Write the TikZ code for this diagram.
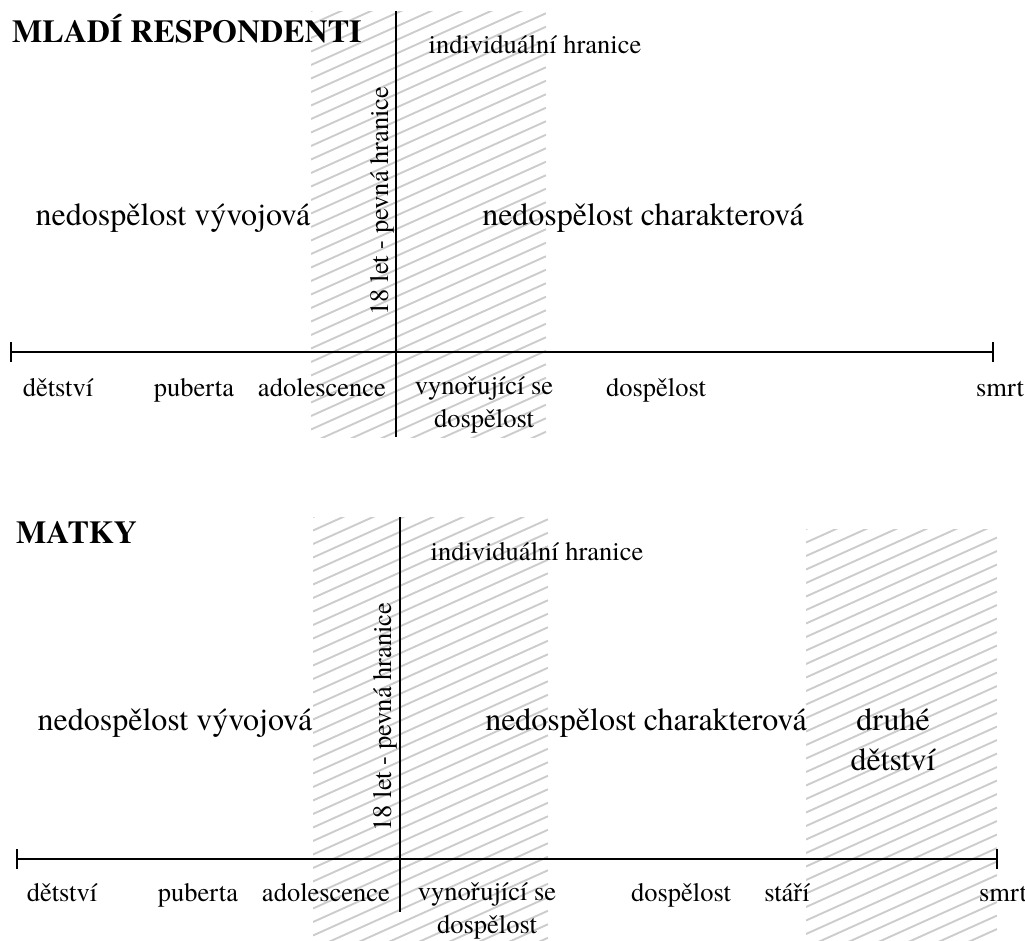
\documentclass[tikz,border=0pt]{standalone}
\usepackage{fontspec}
\setmainfont{texgyretermes}[Extension=.otf,UprightFont=*-regular,BoldFont=*-bold,ItalicFont=*-italic,BoldItalicFont=*-bolditalic]
\usetikzlibrary{calc}
\begin{document}
\begin{tikzpicture}[x=1pt,y=-1pt,
  axisline/.style={line width=1.8pt,black},
  hatchline/.style={line width=1.9pt,black!20},
  lbl/.style={font=\fontsize{26.5}{30}\selectfont,anchor=base,inner sep=0pt},
  big/.style={font=\fontsize{32}{36}\selectfont,anchor=base,inner sep=0pt},
  ttl/.style={font=\fontsize{32}{34}\selectfont\bfseries,anchor=base west,inner sep=0pt}]
\useasboundingbox (0,0) rectangle (1025,940);

% hatched band: \hatchband{x1}{y1}{x2}{y2}
\newcommand{\hatchband}[4]{%
  \begin{scope}
    \clip (#1,#2) rectangle (#3,#4);
    \pgfmathsetmacro{\hend}{#4+0.45*(#3-#1)+14}
    \pgfmathsetmacro{\hnext}{#2+13.5}
    \foreach \c in {#2,\hnext,...,\hend}
      \draw[hatchline] (#1,\c) -- (#3,{\c-0.45*(#3-#1)});
  \end{scope}}

% ---------- upper panel ----------
\hatchband{311}{11}{546}{437}
\node[ttl] (t1) at (12,42) {MLADÍ RESPONDENTI};
\coordinate (a1s) at (11,352);
\coordinate (a1e) at (993,352);
\coordinate (v1t) at (396,11);
\coordinate (v1b) at (396,437);
\draw[axisline] (a1s) -- (a1e);
\draw[axisline] ($(a1s)+(0,-10)$) -- ($(a1s)+(0,10)$);
\draw[axisline] ($(a1e)+(0,-10)$) -- ($(a1e)+(0,10)$);
\draw[axisline] (v1t) -- (v1b);
\node[lbl,rotate=90] (f1) at (388,201) {18 let - pevná hranice};
\node[lbl] (i1) at (535,53) {individuální hranice};
\node[big] (nv1) at (173,225) {nedospělost vývojová};
\node[big] (nc1) at (643,225) {nedospělost charakterová};
\node[lbl] (d1) at (58,396) {dětství};
\node[lbl] (p1) at (194,396) {puberta};
\node[lbl] (ad1) at (322,396) {adolescence};
\node[lbl] (vy1) at (484,394) {vynořující se};
\node[lbl] (vd1) at (484,427) {dospělost};
\node[lbl] (do1) at (656,396) {dospělost};
\node[lbl] (s1) at (1000,396) {smrt};

% ---------- lower panel ----------
\hatchband{313}{517}{548}{940}
\hatchband{806}{529}{997}{940}
\node[ttl] (t2) at (16,543) {MATKY};
\coordinate (a2s) at (17,859);
\coordinate (a2e) at (997,859);
\coordinate (v2t) at (400,517);
\coordinate (v2b) at (400,912);
\draw[axisline] (a2s) -- (a2e);
\draw[axisline] ($(a2s)+(0,-10)$) -- ($(a2s)+(0,10)$);
\draw[axisline] ($(a2e)+(0,-10)$) -- ($(a2e)+(0,10)$);
\draw[axisline] (v2t) -- (v2b);
\node[lbl,rotate=90] (f2) at (391,717) {18 let - pevná hranice};
\node[lbl] (i2) at (537,560) {individuální hranice};
\node[big] (nv2) at (175,730) {nedospělost vývojová};
\node[big] (nc2) at (646,730) {nedospělost charakterová};
\node[big] (dr2) at (893,730) {druhé};
\node[big] (dd2) at (893,770) {dětství};
\node[lbl] (d2) at (62,901) {dětství};
\node[lbl] (p2) at (198,901) {puberta};
\node[lbl] (ad2) at (326,901) {adolescence};
\node[lbl] (vy2) at (487,900) {vynořující se};
\node[lbl] (vd2) at (487,933) {dospělost};
\node[lbl] (do2) at (681,901) {dospělost};
\node[lbl] (st2) at (787,901) {stáří};
\node[lbl] (s2) at (1003,901) {smrt};
\end{tikzpicture}
\end{document}
